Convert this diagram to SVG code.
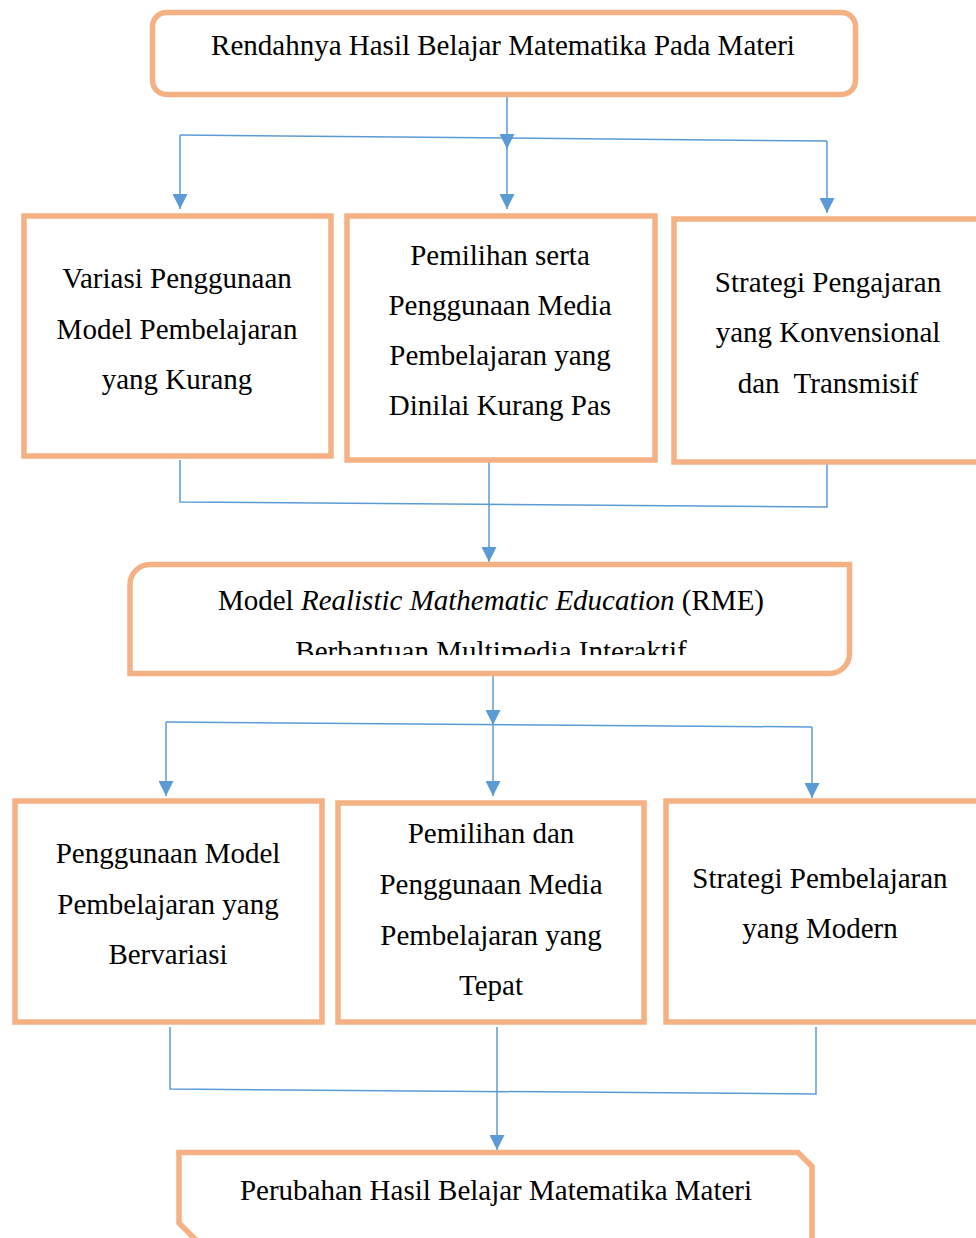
<svg xmlns="http://www.w3.org/2000/svg" width="976" height="1238" viewBox="0 0 976 1238">
<style>
.box{fill:#fff;stroke:#F4B183;stroke-width:5.5}
.t{font-family:"Liberation Serif","Times New Roman",serif;font-size:29px;fill:#000;text-anchor:middle}
.c{fill:none;stroke:#5B9BD5;stroke-width:1.5}
</style>
<defs>
<marker id="ah" markerUnits="userSpaceOnUse" markerWidth="15" markerHeight="15" refX="15" refY="7.5" orient="auto">
<path d="M0,0 L15,7.5 L0,15 z" fill="#5B9BD5"/>
</marker>
<clipPath id="rmeclip"><rect x="130" y="566" width="720" height="89"/></clipPath>
</defs>
<rect width="976" height="1238" fill="#fff"/>

<g id="connectors">
<path class="c" d="M507,97 V149" marker-end="url(#ah)"/>
<path class="c" d="M180,135 L827,141"/>
<path class="c" d="M180,135 V209" marker-end="url(#ah)"/>
<path class="c" d="M507,138 V209" marker-end="url(#ah)"/>
<path class="c" d="M827,141 V213" marker-end="url(#ah)"/>

<path class="c" d="M180,460 V502 L827,507 V463"/>
<path class="c" d="M489,460 V562" marker-end="url(#ah)"/>

<path class="c" d="M493,676 V725" marker-end="url(#ah)"/>
<path class="c" d="M166,722 L812,727"/>
<path class="c" d="M166,722 V796" marker-end="url(#ah)"/>
<path class="c" d="M493,724 V796" marker-end="url(#ah)"/>
<path class="c" d="M812,727 V798" marker-end="url(#ah)"/>

<path class="c" d="M170,1027 V1089 L816,1094 V1027"/>
<path class="c" d="M497,1027 V1150" marker-end="url(#ah)"/>
</g>

<g id="top">
<rect class="box" x="152.5" y="12.5" width="703" height="82" rx="14"/>
<text class="t" x="503" y="55">Rendahnya Hasil Belajar Matematika Pada Materi</text>
</g>

<g id="n1">
<rect class="box" x="24" y="216" width="307" height="240"/>
<text class="t" x="177" y="288">Variasi Penggunaan</text>
<text class="t" x="177" y="338.5">Model Pembelajaran</text>
<text class="t" x="177" y="389">yang Kurang</text>
</g>

<g id="n2">
<rect class="box" x="347" y="216" width="308" height="244"/>
<text class="t" x="500" y="265">Pemilihan serta</text>
<text class="t" x="500" y="315">Penggunaan Media</text>
<text class="t" x="500" y="365">Pembelajaran yang</text>
<text class="t" x="500" y="415">Dinilai Kurang Pas</text>
</g>

<g id="n3">
<rect class="box" x="674" y="219" width="320" height="243"/>
<text class="t" x="828" y="292">Strategi Pengajaran</text>
<text class="t" x="828" y="342">yang Konvensional</text>
<text class="t" x="828" y="393" xml:space="preserve">dan  Transmisif</text>
</g>

<g id="rme">
<path class="box" d="M130,584.5 A20,20 0 0 1 150,564.5 H849.5 V653.5 A20,20 0 0 1 829.5,673.5 H130 Z"/>
<g clip-path="url(#rmeclip)">
<text class="t" x="491" y="610">Model <tspan font-style="italic">Realistic Mathematic Education</tspan> (RME)</text>
<text class="t" x="491" y="661">Berbantuan Multimedia Interaktif</text>
</g>
</g>

<g id="m1">
<rect class="box" x="15" y="801" width="307" height="221"/>
<text class="t" x="168" y="863">Penggunaan Model</text>
<text class="t" x="168" y="914">Pembelajaran yang</text>
<text class="t" x="168" y="964">Bervariasi</text>
</g>

<g id="m2">
<rect class="box" x="338" y="803" width="306" height="219"/>
<text class="t" x="491" y="843">Pemilihan dan</text>
<text class="t" x="491" y="894">Penggunaan Media</text>
<text class="t" x="491" y="945">Pembelajaran yang</text>
<text class="t" x="491" y="995">Tepat</text>
</g>

<g id="m3">
<rect class="box" x="666" y="801" width="320" height="221"/>
<text class="t" x="820" y="888">Strategi Pembelajaran</text>
<text class="t" x="820" y="938">yang Modern</text>
</g>

<g id="bottom">
<path class="box" d="M179,1152.5 H798 L812,1166.5 V1260 H216 L179,1223 Z"/>
<text class="t" x="496" y="1200">Perubahan Hasil Belajar Matematika Materi</text>
</g>
</svg>
